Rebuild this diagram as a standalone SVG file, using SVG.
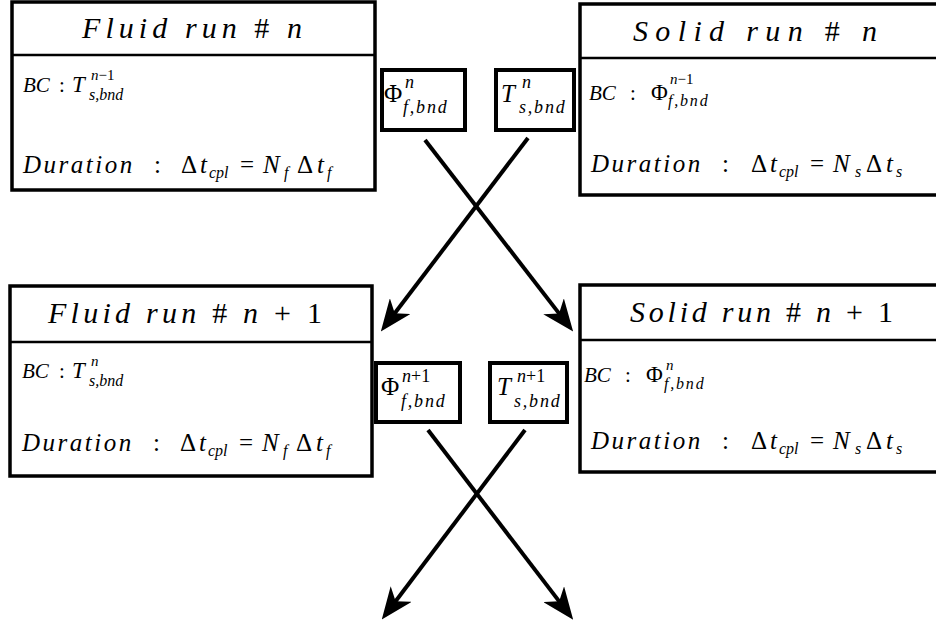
<svg xmlns="http://www.w3.org/2000/svg" width="936" height="625" viewBox="0 0 936 625">
<style>
.box{fill:#fff;stroke:#000;stroke-width:3.5}
.sbox{fill:#fff;stroke:#000;stroke-width:4}
.div{stroke:#000;stroke-width:2.5}
.tx{font-family:"Liberation Serif","Times New Roman",serif;fill:#000}
.it{font-style:italic}
.t{font-size:30px;font-style:italic}
.bc{font-size:21px}
.bt{font-size:23px}
.du{font-size:25px}
.ls{letter-spacing:2.5px}
.sc{font-size:16px;font-style:italic}
.sp{font-size:15px;font-style:italic}
.sm{font-size:25px}
.ss{font-size:18px;font-style:italic}
.sl{letter-spacing:1.8px}
.conn{stroke:#000;stroke-width:4;fill:none}
</style>
<defs>
<marker id="ah" markerUnits="userSpaceOnUse" viewBox="0 0 32 26" refX="20" refY="13" markerWidth="32" markerHeight="26" orient="auto">
<path d="M32,13 L0,0 L9,13 L0,26 Z" fill="#000"/>
</marker>
</defs>

<g id="fluid-n">
<rect class="box" x="12" y="2" width="363" height="188"/>
<line class="div" x1="12" y1="55" x2="375" y2="55"/>
<text class="tx t" x="82" y="38" textLength="220" lengthAdjust="spacing">Fluid run <tspan font-style="normal">#</tspan> n</text>
<text class="tx bc"><tspan class="it" x="23" y="92">BC</tspan><tspan x="59" y="92">:</tspan><tspan class="it bt" x="72" y="92">T</tspan><tspan class="sp" x="91" y="80">n<tspan font-style="normal">−1</tspan></tspan><tspan class="sc" x="89" y="100">s,bnd</tspan></text>
<text class="tx du"><tspan class="it ls" x="23" y="173">Duration</tspan><tspan x="154" y="173">:</tspan><tspan x="181" y="173">Δ</tspan><tspan class="it" x="200" y="173">t</tspan><tspan class="sc" x="209" y="178">cpl</tspan><tspan x="240" y="173">=</tspan><tspan class="it" x="263" y="173">N</tspan><tspan class="sc" x="284" y="178">f</tspan><tspan x="297" y="173">Δ</tspan><tspan class="it" x="317" y="173">t</tspan><tspan class="sc" x="327" y="178">f</tspan></text>
</g>

<g id="phi-n">
<rect class="sbox" x="382" y="70" width="83" height="60"/>
<text class="tx sm"><tspan x="384" y="102">Φ</tspan><tspan class="ss" x="405" y="88">n</tspan><tspan class="ss sl" x="403" y="113">f,bnd</tspan></text>
</g>

<g id="t-n">
<rect class="sbox" x="496" y="70" width="78" height="60"/>
<text class="tx sm"><tspan class="it" x="501" y="102">T</tspan><tspan class="ss" x="522" y="88">n</tspan><tspan class="ss sl" x="519" y="113">s,bnd</tspan></text>
</g>

<g id="solid-n">
<rect class="box" x="580" y="4" width="362" height="191"/>
<line class="div" x1="580" y1="58" x2="940" y2="58"/>
<text class="tx t" x="633" y="41" textLength="244" lengthAdjust="spacing">Solid run <tspan font-style="normal">#</tspan> n</text>
<text class="tx bc"><tspan class="it" x="589" y="100">BC</tspan><tspan x="630" y="100">:</tspan><tspan class="bt" x="651" y="100">Φ</tspan><tspan class="sp" x="670" y="84">n<tspan font-style="normal">−1</tspan></tspan><tspan class="sc sl" x="668" y="106">f,bnd</tspan></text>
<text class="tx du"><tspan class="it ls" x="591" y="172">Duration</tspan><tspan x="722" y="172">:</tspan><tspan x="751" y="172">Δ</tspan><tspan class="it" x="770" y="172">t</tspan><tspan class="sc" x="779" y="177">cpl</tspan><tspan x="810" y="172">=</tspan><tspan class="it" x="833" y="172">N</tspan><tspan class="sc" x="855" y="177">s</tspan><tspan x="866" y="172">Δ</tspan><tspan class="it" x="886" y="172">t</tspan><tspan class="sc" x="896" y="177">s</tspan></text>
</g>

<g id="fluid-n1">
<rect class="box" x="10" y="286" width="362" height="190"/>
<line class="div" x1="10" y1="342" x2="372" y2="342"/>
<text class="tx t" x="48" y="323" textLength="274" lengthAdjust="spacing">Fluid run <tspan font-style="normal">#</tspan> n <tspan font-style="normal">+ 1</tspan></text>
<text class="tx bc"><tspan class="it" x="22" y="378">BC</tspan><tspan x="59" y="378">:</tspan><tspan class="it bt" x="72" y="378">T</tspan><tspan class="sp" x="91" y="366">n</tspan><tspan class="sc" x="89" y="386">s,bnd</tspan></text>
<text class="tx du"><tspan class="it ls" x="22" y="451">Duration</tspan><tspan x="153" y="451">:</tspan><tspan x="180" y="451">Δ</tspan><tspan class="it" x="199" y="451">t</tspan><tspan class="sc" x="208" y="456">cpl</tspan><tspan x="239" y="451">=</tspan><tspan class="it" x="262" y="451">N</tspan><tspan class="sc" x="283" y="456">f</tspan><tspan x="296" y="451">Δ</tspan><tspan class="it" x="316" y="451">t</tspan><tspan class="sc" x="326" y="456">f</tspan></text>
</g>

<g id="phi-n1">
<rect class="sbox" x="376" y="363" width="84" height="59"/>
<text class="tx sm"><tspan x="381" y="395">Φ</tspan><tspan class="ss" x="402" y="382">n<tspan font-style="normal">+1</tspan></tspan><tspan class="ss sl" x="401" y="407">f,bnd</tspan></text>
</g>

<g id="t-n1">
<rect class="sbox" x="490" y="363" width="77" height="59"/>
<text class="tx sm"><tspan class="it" x="497" y="395">T</tspan><tspan class="ss" x="517" y="382">n<tspan font-style="normal">+1</tspan></tspan><tspan class="ss sl" x="514" y="407">s,bnd</tspan></text>
</g>

<g id="solid-n1">
<rect class="box" x="580" y="285" width="362" height="187"/>
<line class="div" x1="580" y1="340" x2="940" y2="340"/>
<text class="tx t" x="630" y="322" textLength="263" lengthAdjust="spacing">Solid run <tspan font-style="normal">#</tspan> n <tspan font-style="normal">+ 1</tspan></text>
<text class="tx bc"><tspan class="it" x="584" y="382">BC</tspan><tspan x="625" y="382">:</tspan><tspan class="bt" x="646" y="382">Φ</tspan><tspan class="sp" x="666" y="370">n</tspan><tspan class="sc sl" x="664" y="389">f,bnd</tspan></text>
<text class="tx du"><tspan class="it ls" x="591" y="449">Duration</tspan><tspan x="722" y="449">:</tspan><tspan x="751" y="449">Δ</tspan><tspan class="it" x="770" y="449">t</tspan><tspan class="sc" x="779" y="454">cpl</tspan><tspan x="810" y="449">=</tspan><tspan class="it" x="833" y="449">N</tspan><tspan class="sc" x="855" y="454">s</tspan><tspan x="866" y="449">Δ</tspan><tspan class="it" x="886" y="449">t</tspan><tspan class="sc" x="896" y="454">s</tspan></text>
</g>

<g id="connectors">
<path class="conn" d="M425,140 L565.8,322.1" marker-end="url(#ah)"/>
<path class="conn" d="M528,138 L388.1,322" marker-end="url(#ah)"/>
<path class="conn" d="M428,430 L565.9,610.1" marker-end="url(#ah)"/>
<path class="conn" d="M525,430 L389,610" marker-end="url(#ah)"/>
</g>
</svg>
